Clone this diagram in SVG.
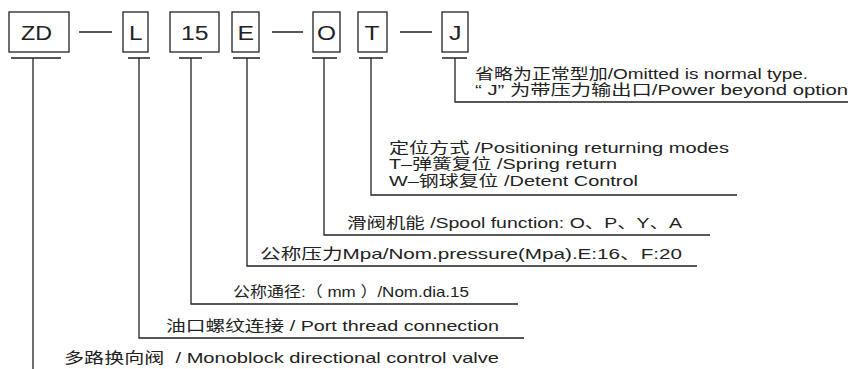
<svg xmlns="http://www.w3.org/2000/svg" width="850" height="369" viewBox="0 0 850 369">
<style>
.box{fill:#fff;stroke:#222;stroke-width:1.3}
.code{font-family:"Liberation Sans","Noto Sans CJK SC",sans-serif;font-size:20px;fill:#222}
.lbl{font-family:"Liberation Sans","Noto Sans CJK SC",sans-serif;font-size:15px;fill:#222;white-space:pre}
.ln{fill:none;stroke:#222;stroke-width:1.3}
</style>
<rect width="850" height="369" fill="#fff"/>
<g id="node-ZD"><rect class="box" x="9" y="12" width="60" height="40"/><text class="code" x="21" y="39.5" textLength="31" lengthAdjust="spacingAndGlyphs">ZD</text></g>
<g id="node-L"><rect class="box" x="123" y="12" width="25" height="40"/><text class="code" x="129" y="39.5" textLength="13.5" lengthAdjust="spacingAndGlyphs">L</text></g>
<g id="node-15"><rect class="box" x="170" y="12" width="49" height="40"/><text class="code" x="181" y="39.5" textLength="27.5" lengthAdjust="spacingAndGlyphs">15</text></g>
<g id="node-E"><rect class="box" x="232" y="12" width="27" height="40"/><text class="code" x="237.5" y="39.5" textLength="16.5" lengthAdjust="spacingAndGlyphs">E</text></g>
<g id="node-O"><rect class="box" x="313" y="12" width="27" height="40"/><text class="code" x="317" y="39.5" textLength="19" lengthAdjust="spacingAndGlyphs">O</text></g>
<g id="node-T"><rect class="box" x="358" y="12" width="29" height="40"/><text class="code" x="364.5" y="39.5" textLength="15" lengthAdjust="spacingAndGlyphs">T</text></g>
<g id="node-J"><rect class="box" x="442" y="12" width="26" height="40"/><text class="code" x="449" y="39.5" textLength="12.5" lengthAdjust="spacingAndGlyphs">J</text></g>
<g id="connectors">
<path class="ln" d="M79 32H112M272 32H303M400 32H432"/>
<path class="ln" d="M11 58H61M33 58V369"/>
<path class="ln" d="M128 58H150M139 58V338H524"/>
<path class="ln" d="M179 58H202M191 58V304H518"/>
<path class="ln" d="M233 58H260M247 58V266H697"/>
<path class="ln" d="M312 58H337M324 58V235H710"/>
<path class="ln" d="M359 58H383M371 58V195H737"/>
<path class="ln" d="M442 58H467M455 58V102H848"/>
</g>
<g id="label-J">
<text class="lbl" x="475" y="79" textLength="333" lengthAdjust="spacingAndGlyphs">省略为正常型加/Omitted is normal type.</text>
<text class="lbl" x="475" y="95" textLength="373" lengthAdjust="spacingAndGlyphs">“ J” 为带压力输出口/Power beyond option</text>
</g>
<g id="label-T">
<text class="lbl" x="389" y="153" textLength="340" lengthAdjust="spacingAndGlyphs">定位方式 /Positioning returning modes</text>
<text class="lbl" x="389" y="169" textLength="228" lengthAdjust="spacingAndGlyphs">T–弹簧复位 /Spring return</text>
<text class="lbl" x="389" y="186" textLength="249" lengthAdjust="spacingAndGlyphs">W–钢球复位 /Detent Control</text>
</g>
<g id="label-O"><text class="lbl" x="347" y="228" textLength="335" lengthAdjust="spacingAndGlyphs">滑阀机能 /Spool function: O、P、Y、A</text></g>
<g id="label-E"><text class="lbl" x="260" y="259" textLength="422" lengthAdjust="spacingAndGlyphs">公称压力Mpa/Nom.pressure(Mpa).E:16、F:20</text></g>
<g id="label-15"><text class="lbl" x="233" y="297" textLength="236" lengthAdjust="spacingAndGlyphs">公称通径:（ mm ）/Nom.dia.15</text></g>
<g id="label-L"><text class="lbl" x="166" y="331" textLength="333" lengthAdjust="spacingAndGlyphs">油口螺纹连接 / Port thread connection</text></g>
<g id="label-ZD"><text class="lbl" x="64" y="363" textLength="435" lengthAdjust="spacingAndGlyphs">多路换向阀  / Monoblock directional control valve</text></g>
</svg>
